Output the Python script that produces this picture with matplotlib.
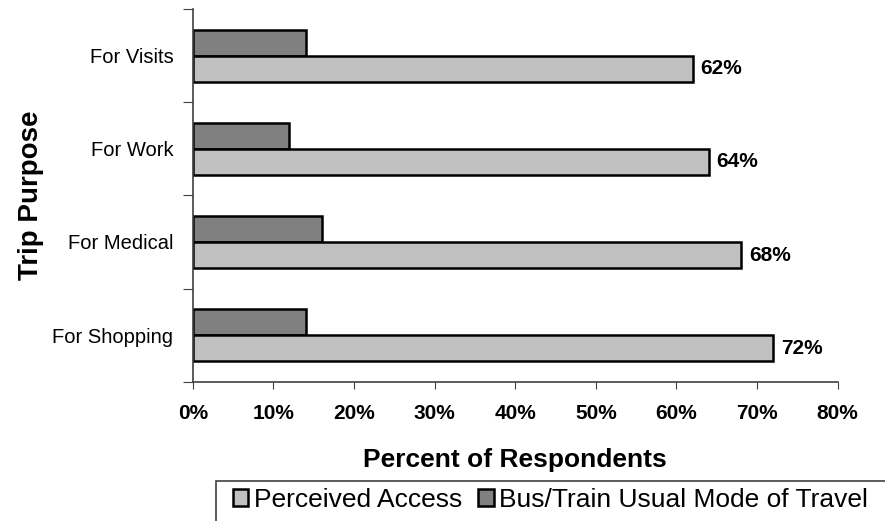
import numpy as np
import matplotlib.pyplot as plt
from matplotlib.patches import Rectangle
from matplotlib.ticker import FuncFormatter

plt.rcParams['font.family'] = ['Liberation Sans', 'DejaVu Sans']

# data (top to bottom)
categories = ['For Visits', 'For Work', 'For Medical', 'For Shopping']
perceived_access = [62, 64, 68, 72]
bus_train_usual = [14, 12, 16, 14]

fig = plt.figure(figsize=(8.85, 5.21), dpi=100)
ax = fig.add_axes([0.2178, 0.2672, 0.9465 - 0.2178, 0.9827 - 0.2672])

n = len(categories)
y = np.arange(n)
bar_h = 0.28

ax.barh(y - bar_h / 2, bus_train_usual, bar_h, color='#808080', edgecolor='black',
        linewidth=1.8, label='Bus/Train Usual Mode of Travel')
ax.barh(y + bar_h / 2, perceived_access, bar_h, color='#C0C0C0', edgecolor='black',
        linewidth=1.8, label='Perceived Access')

for i, v in enumerate(perceived_access):
    ax.text(v + 1.0, y[i] + bar_h / 2, f'{v}%', va='center', ha='left',
            fontsize=15, fontweight='bold')

ax.set_xlim(0, 80)
ax.set_ylim(n - 0.5, -0.5)
ax.set_xticks(np.arange(0, 81, 10))
ax.xaxis.set_major_formatter(FuncFormatter(lambda v, p: f'{v:.0f}%'))
for lab in ax.get_xticklabels():
    lab.set_fontweight('bold')
ax.tick_params(axis='x', labelsize=15, length=5, direction='out', pad=11, color='#404040')

# y ticks at the category boundaries, labels at centres
ax.set_yticks(np.arange(-0.5, n, 1.0))
ax.set_yticklabels([])
ax.set_yticks(y, minor=True)
ax.set_yticklabels(categories, minor=True)
ax.tick_params(axis='y', which='major', length=7, direction='out', color='#404040')
ax.tick_params(axis='y', which='minor', length=0, labelsize=14.5, pad=14)

for s in ['top', 'right']:
    ax.spines[s].set_visible(False)
for s in ['left', 'bottom']:
    ax.spines[s].set_color('#404040')
    ax.spines[s].set_linewidth(1.2)

ax.set_xlabel('Percent of Respondents', fontsize=19, fontweight='bold', labelpad=18)
ax.set_ylabel('Trip Purpose', fontsize=20, fontweight='bold', labelpad=6)

handles, labels = ax.get_legend_handles_labels()
leg = fig.legend(handles[::-1], labels[::-1], loc='upper left', ncol=2,
                 bbox_to_anchor=(226 / 885, 1 - 481 / 521), borderaxespad=0,
                 fontsize=19, frameon=False, handlelength=0.6,
                 handleheight=0.6, handletextpad=0.2, columnspacing=0.6,
                 borderpad=0.25)

# legend box runs off the right and bottom edges, as in the original
fig.patches.append(Rectangle((216 / 885, -0.05), 0.8, 0.05 + (1 - 481 / 521),
                             transform=fig.transFigure, fill=False,
                             edgecolor='#404040', linewidth=1.2))

fig.savefig('out.png', dpi=100)
